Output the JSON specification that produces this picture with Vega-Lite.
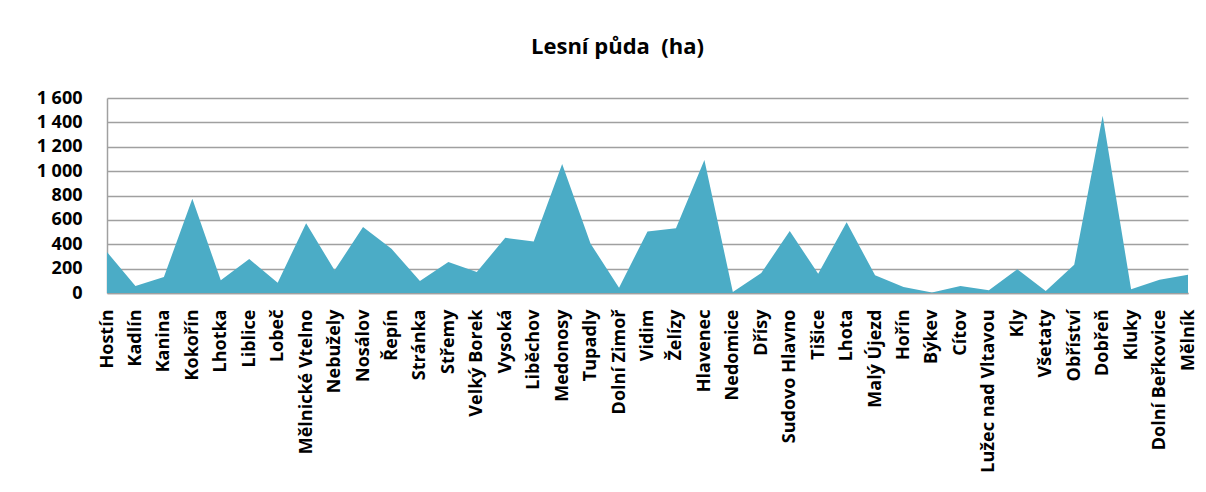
{
  "$schema": "https://vega.github.io/schema/vega-lite/v6.json",
  "width": 1081,
  "height": 195,
  "autosize": "none",
  "padding": {"left": 107, "top": 98, "right": 18, "bottom": 199},
  "background": "white",
  "title": {
    "text": "Lesní půda\u00a0\u00a0(ha)",
    "font": "Open Sans",
    "fontSize": 22,
    "fontWeight": "bold",
    "color": "#000000",
    "anchor": "middle",
    "frame": "group",
    "dx": -30,
    "offset": 30
  },
  "data": {
    "values": [
      {"obec": "Hostín", "ha": 336},
      {"obec": "Kadlín", "ha": 57},
      {"obec": "Kanina", "ha": 131},
      {"obec": "Kokořín", "ha": 773},
      {"obec": "Lhotka", "ha": 104},
      {"obec": "Liblice", "ha": 278},
      {"obec": "Lobeč", "ha": 85},
      {"obec": "Mělnické Vtelno", "ha": 573},
      {"obec": "Nebužely", "ha": 186},
      {"obec": "Nosálov", "ha": 541},
      {"obec": "Řepín", "ha": 363},
      {"obec": "Stránka", "ha": 98},
      {"obec": "Střemy", "ha": 254},
      {"obec": "Velký Borek", "ha": 172},
      {"obec": "Vysoká", "ha": 453},
      {"obec": "Liběchov", "ha": 423},
      {"obec": "Medonosy", "ha": 1059},
      {"obec": "Tupadly", "ha": 404},
      {"obec": "Dolní Zimoř", "ha": 44},
      {"obec": "Vidim", "ha": 505},
      {"obec": "Želízy", "ha": 532},
      {"obec": "Hlavenec", "ha": 1092},
      {"obec": "Nedomice", "ha": 8},
      {"obec": "Dřísy", "ha": 164},
      {"obec": "Sudovo Hlavno", "ha": 508},
      {"obec": "Tišice", "ha": 158},
      {"obec": "Lhota", "ha": 581},
      {"obec": "Malý Újezd", "ha": 145},
      {"obec": "Hořín", "ha": 49},
      {"obec": "Býkev", "ha": 5},
      {"obec": "Cítov", "ha": 57},
      {"obec": "Lužec nad Vltavou", "ha": 22},
      {"obec": "Kly", "ha": 194},
      {"obec": "Všetaty", "ha": 16},
      {"obec": "Obříství", "ha": 232},
      {"obec": "Dobřeň", "ha": 1455},
      {"obec": "Kluky", "ha": 30},
      {"obec": "Dolní Beřkovice", "ha": 109},
      {"obec": "Mělník", "ha": 150}
    ]
  },
  "mark": {"type": "area", "color": "#4BACC6", "opacity": 1},
  "encoding": {
    "x": {
      "field": "obec",
      "type": "nominal",
      "sort": null,
      "scale": {"type": "point", "padding": 0},
      "axis": {
        "title": null,
        "labelAngle": -90,
        "labelFont": "Open Sans",
        "labelFontSize": 18,
        "labelFontWeight": "bold",
        "labelColor": "#000000",
        "labelPadding": 16,
        "ticks": false,
        "domainColor": "#A0A0A0",
        "domainWidth": 1.5,
        "grid": false,
        "labelOverlap": false
      }
    },
    "y": {
      "field": "ha",
      "type": "quantitative",
      "scale": {"domain": [0, 1600], "nice": false},
      "axis": {
        "title": null,
        "values": [0, 200, 400, 600, 800, 1000, 1200, 1400, 1600],
        "labelExpr": "replace(format(datum.value, ','), ',', '\u00a0')",
        "labelFont": "Open Sans",
        "labelFontSize": 18,
        "labelFontWeight": "bold",
        "labelColor": "#000000",
        "labelPadding": 25,
        "ticks": false,
        "domainColor": "#A0A0A0",
        "domainWidth": 1.5,
        "gridColor": "#A0A0A0",
        "gridWidth": 1.5
      }
    }
  },
  "config": {
    "view": {"stroke": null}
  }
}
